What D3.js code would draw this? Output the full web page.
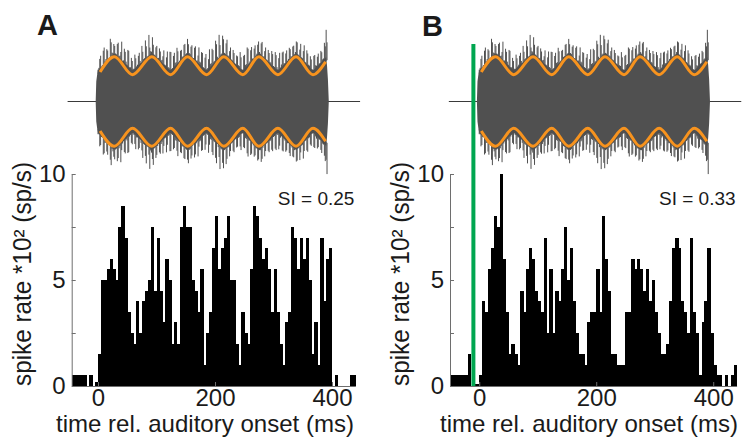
<!DOCTYPE html>
<html><head><meta charset="utf-8">
<script src="https://cdn.jsdelivr.net/npm/d3@7"></script>
<style>html,body{margin:0;padding:0;background:#fff;} svg{display:block;}</style>
</head><body>
<svg id="chart" width="743" height="437"></svg>
<script>
// ---------------- data ----------------
const binWidth = 5; // ms
const histStartA = -45, histEndA = 440;
const histStartB = -50, histEndB = 440;
// spike rate (*10^2 sp/s), one value per 5 ms bin
const histA = [
 0.5,0.5,0.5,0.5,0.5,0,0.5,0,0.2,1.5,
 5,5,5.5,6,5.5,5,7.5,8.5,7,3.5,
 2.5,2,4,2.5,4,4.5,5,7.5,4.5,7,
 4.5,3,6,5,2,3,2,7.5,8.5,7.5,
 7.5,5,4.5,3.5,5.5,1,2.5,3.5,6.5,8,
 5.5,6.5,7,8,5,5,2,1,3.5,2.5,
 2,5.5,8.5,8,7,6,6.5,5.5,3.5,5.5,
 3.5,2,1,3,3.5,7.5,7,5.5,7,6,
 7,5,1.5,3,1,7,4,6,6.5,0,
 0.5,0,0,0,0,0.5,0.5
];
const histB = [
 0.5,0.5,0.5,0.5,0.5,0.5,1.5,0,0.1,0.1,
 0.5,4,3.5,5.5,6.5,8,7.5,10,6,3.5,
 1.5,2,1.5,1,4.5,3.5,5.5,6.5,6,4.5,
 4,3.5,7,2.5,5.5,2.5,4.5,4,5.5,7.5,
 5,6.5,4,2.5,1.5,1.5,1,3,3.5,3.5,
 5.5,3.5,8,6,4.5,1.5,1.5,1,1,1,
 3.5,3.5,6,5.5,6,5.5,4.5,5.5,4,5,
 3.5,2.5,1.5,1.5,2,4,6.5,7,6.5,4,
 3.5,2.5,7,3.5,2.5,0.5,3,4,6.5,2.5,
 1,0.5,0.5,0,0.5,0,0.5,1
];
const siLabels = ["SI = 0.25", "SI = 0.33"];
const panelLetters = ["A", "B"];
const xTicks = [0, 200, 400];
const yTicks = [0, 2.5, 5, 7.5, 10];
const yTickLabels = ["0", "", "5", "", "10"];
const xTitle = "time rel. auditory onset (ms)";
const yTitle = "spike rate *10\u00B2 (sp/s)";
const visualOnsetB = -10; // ms, green marker

// stimulus: modulation envelope extrema (ms, relative amplitude)
const envT = [3.5, 28, 59, 92, 124, 153, 185.5, 215, 247.5, 275, 307.5, 338.5, 367.5, 389];
const envA = [0.66, 1, 0.6, 1, 0.6, 1, 0.6, 1, 0.6, 1, 0.6, 1, 0.6, 0.89];
// noisy carrier: excursions beyond the envelope, sampled every 3 ms from 0 ms
const waveStart = 0, waveStep = 3;
const waveBodyEx = 0.09;
const waveTopEx = [
 0.10,0.30,0.08,0.40,0.12,0.35,0.10,0.50,0.15,0.30,
 0.10,0.35,0.12,0.25,0.08,0.40,0.15,0.45,0.10,0.35,
 0.12,0.40,0.10,0.30,0.15,0.45,0.12,0.50,0.10,0.55,
 0.15,0.45,0.10,0.30,0.08,0.35,0.12,0.25,0.10,0.30,
 0.12,0.50,0.10,0.35,0.15,0.45,0.08,0.30,0.12,0.35,
 0.10,0.40,0.12,0.30,0.08,0.35,0.10,0.25,0.15,0.40,
 0.10,0.35,0.12,0.30,0.15,0.45,0.12,0.55,0.15,0.60,
 0.12,0.50,0.10,0.35,0.12,0.25,0.10,0.35,0.08,0.30,
 0.12,0.45,0.10,0.40,0.15,0.50,0.10,0.35,0.12,0.30,
 0.10,0.30,0.12,0.35,0.08,0.25,0.10,0.35,0.12,0.40,
 0.10,0.45,0.15,0.35,0.10,0.40,0.12,0.30,0.10,0.35,
 0.12,0.30,0.08,0.35,0.10,0.25,0.12,0.30,0.10,0.40,
 0.12,0.35,0.10,0.40,0.15,0.30,0.10,0.35,0.12,0.45,0.70
];
const waveBotEx = [
 0.12,0.35,0.10,0.45,0.15,0.30,0.10,0.40,0.12,0.25,
 0.10,0.40,0.15,0.50,0.12,0.35,0.10,0.45,0.12,0.30,
 0.10,0.30,0.12,0.35,0.08,0.30,0.12,0.35,0.10,0.25,
 0.12,0.30,0.10,0.35,0.12,0.30,0.15,0.40,0.10,0.45,
 0.12,0.50,0.10,0.40,0.15,0.35,0.10,0.30,0.12,0.35,
 0.10,0.30,0.12,0.35,0.10,0.40,0.12,0.45,0.15,0.40,
 0.10,0.45,0.12,0.50,0.15,0.40,0.12,0.45,0.10,0.35,
 0.12,0.40,0.10,0.45,0.12,0.35,0.10,0.30,0.08,0.30,
 0.12,0.35,0.10,0.40,0.15,0.45,0.12,0.40,0.10,0.35,
 0.12,0.35,0.10,0.40,0.12,0.35,0.10,0.30,0.12,0.35,
 0.10,0.40,0.12,0.45,0.15,0.40,0.10,0.35,0.12,0.30,
 0.10,0.30,0.12,0.35,0.10,0.40,0.12,0.45,0.10,0.35,
 0.12,0.30,0.10,0.40,0.12,0.35,0.10,0.30,0.12,0.35,0.40
];
const rampOnT = [-4, -3, -1.5], rampOnA = [0, 0.45, 0.6];
const rampOffT = [391.5, 393, 394.5], rampOffA = [0.8, 0.5, 0];
const baselineT = [-52, 448];

// ---------------- drawing ----------------
const svg = d3.select("#chart");
const FONT = "'Liberation Sans', Arial, Helvetica, sans-serif";
const AXIS_COLOR = "#6e6e6e";
const GRAY = "#505050";
const yHist = d3.scaleLinear().domain([0, 10]).range([386, 174]);
const yWave = d3.scaleLinear().domain([-1, 1]).range([101.5 + 44.7, 101.5 - 44.7]);
const env = d3.scaleLinear().domain(envT).range(envA);

const panels = [
  {hist: histA, t0: histStartA, t1: histEndA, x0: 71.7, x1: 355.4, tx: 205, si: siLabels[0], letter: panelLetters[0], lx: 37, ly: 35, green: false},
  {hist: histB, t0: histStartB, t1: histEndB, x0: 450, x1: 736.6, tx: 589, si: siLabels[1], letter: panelLetters[1], lx: 422, ly: 36, green: true}
];

panels.forEach(p => {
  const x = d3.scaleLinear().domain([p.t0, p.t1]).range([p.x0, p.x1]);
  const g = svg.append("g");

  // --- stimulus waveform ---
  g.append("line")
    .attr("x1", x(baselineT[0])).attr("x2", x(baselineT[1]))
    .attr("y1", yWave(0)).attr("y2", yWave(0))
    .attr("stroke", "#3a3a3a").attr("stroke-width", 1);

  const samples = waveTopEx.map((e, i) => {
    const t = waveStart + i * waveStep;
    return {t, a: env(t), top: e, bot: waveBotEx[i]};
  });
  const pts = [];
  rampOnT.forEach((t, i) => pts.push({t, top: rampOnA[i], bot: rampOnA[i]}));
  samples.forEach(s => pts.push({t: s.t, top: s.a + waveBodyEx, bot: s.a + waveBodyEx}));
  rampOffT.forEach((t, i) => pts.push({t, top: rampOffA[i], bot: rampOffA[i]}));
  const area = d3.area().x(d => x(d.t)).y0(d => yWave(-d.bot)).y1(d => yWave(d.top));
  g.append("path").datum(pts).attr("d", area).attr("fill", GRAY);

  // needles of the noise carrier (two per sample on each side)
  const needles = g.append("g").attr("stroke", GRAY).attr("stroke-width", 1);
  const half = waveStep / 2;
  samples.forEach(s => {
    const a2 = env(s.t + half);
    [[s.t, s.a, s.top], [s.t + half, a2, s.bot]].forEach(([t, a, e]) => {
      needles.append("line").attr("x1", x(t)).attr("x2", x(t))
        .attr("y1", yWave(a)).attr("y2", yWave(a + e));
    });
    [[s.t + half, a2, s.top], [s.t, s.a, s.bot]].forEach(([t, a, e]) => {
      needles.append("line").attr("x1", x(t)).attr("x2", x(t))
        .attr("y1", yWave(-a)).attr("y2", yWave(-(a + e)));
    });
  });

  const envPts = envT.map((t, i) => ({t, a: envA[i]}));
  const lineTop = d3.line().x(d => x(d.t)).y(d => yWave(d.a)).curve(d3.curveMonotoneX);
  const lineBot = d3.line().x(d => x(d.t)).y(d => yWave(-d.a)).curve(d3.curveMonotoneX);
  [lineTop, lineBot].forEach(l => g.append("path").datum(envPts).attr("d", l)
    .attr("fill", "none").attr("stroke", "#f7931e").attr("stroke-width", 3));

  // --- histogram ---
  const bins = p.hist.map((v, i) => ({t: p.t0 + i * binWidth, v}));
  g.append("g").attr("shape-rendering", "crispEdges")
    .selectAll("rect").data(bins.filter(d => d.v > 0)).join("rect")
    .attr("x", d => x(d.t)).attr("width", d => x(d.t + binWidth) - x(d.t) + 0.4)
    .attr("y", d => yHist(d.v)).attr("height", d => yHist(0) - yHist(d.v))
    .attr("fill", "#000");

  // --- axes ---
  const ya = g.append("g").attr("transform", `translate(${p.x0},0)`)
    .call(d3.axisLeft(yHist).tickValues(yTicks).tickSize(-4).tickSizeOuter(0)
      .tickPadding(6).tickFormat((d, i) => yTickLabels[i]));
  const xa = g.append("g").attr("transform", `translate(0,${yHist(0)})`)
    .call(d3.axisBottom(x).tickValues(xTicks).tickSize(-4).tickSizeOuter(0)
      .tickPadding(3).tickFormat(d3.format("d")));
  [ya, xa].forEach(a => {
    a.select(".domain").attr("stroke", AXIS_COLOR).attr("stroke-width", 1);
    a.selectAll(".tick line").attr("stroke", AXIS_COLOR);
    a.selectAll(".tick text").attr("fill", "#1a1a1a").style("font-family", FONT).style("font-size", "24px");
  });

  // titles
  g.append("text").attr("x", p.tx).attr("y", 432)
    .attr("text-anchor", "middle").attr("textLength", 298).attr("lengthAdjust", "spacingAndGlyphs")
    .style("font-family", FONT).style("font-size", "24px").attr("fill", "#1a1a1a").text(xTitle);
  g.append("text").attr("transform", `translate(${p.x0 - 41},274) rotate(-90)`)
    .attr("text-anchor", "middle").attr("textLength", 224).attr("lengthAdjust", "spacingAndGlyphs")
    .style("font-family", FONT).style("font-size", "25px").attr("fill", "#1a1a1a").text(yTitle);

  // SI label
  g.append("text").attr("x", p.x1 - 1).attr("y", 205).attr("text-anchor", "end")
    .style("font-family", FONT).style("font-size", "19px").attr("fill", "#1a1a1a").text(p.si);

  // panel letter
  g.append("text").attr("x", p.lx).attr("y", p.ly)
    .style("font-family", FONT).style("font-size", "29px").style("font-weight", "bold")
    .attr("fill", "#1a1a1a").text(p.letter);

  // visual onset marker
  if (p.green) {
    g.append("line").attr("x1", x(visualOnsetB)).attr("x2", x(visualOnsetB))
      .attr("y1", 44).attr("y2", yHist(0))
      .attr("stroke", "#00a650").attr("stroke-width", 4);
  }
});
</script>
</body></html>
